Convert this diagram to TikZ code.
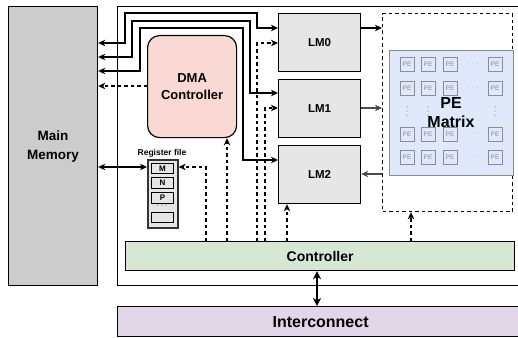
\documentclass[tikz,border=0pt]{standalone}
\usepackage{fontspec}
\setmainfont{Liberation Sans}
\newfontfamily\dejavu{DejaVu Sans}
\usetikzlibrary{arrows.meta,calc}
\definecolor{mmgray}{HTML}{CCCCCC}
\definecolor{dmapink}{HTML}{FAD9D5}
\definecolor{lmgray}{HTML}{E6E6E6}
\definecolor{ctrlgreen}{HTML}{D5E8D4}
\definecolor{icpurple}{HTML}{E1D5E7}
\definecolor{peblue}{HTML}{DFE9FB}
\definecolor{pegray}{HTML}{8C8C8C}
\begin{document}
\begin{tikzpicture}[x=1pt,y=-1pt,
  box/.style={draw=black,line width=1.2pt,inner sep=0pt,anchor=north west,align=center},
  conn/.style={line width=1.2pt},
  dsh/.style={line width=1.2pt,dash pattern=on 3.5pt off 3pt},
  >={Stealth[length=7pt,width=6.5pt,inset=2pt]},
  f13/.style={font=\bfseries\fontsize{13}{17}\selectfont},
  fmm/.style={font=\bfseries\fontsize{13.5}{19}\selectfont},
  f11/.style={font=\bfseries\fontsize{11.5}{13}\selectfont},
  f14/.style={font=\bfseries\fontsize{14}{16}\selectfont},
  f16/.style={font=\bfseries\fontsize{16}{19}\selectfont},
  pecell/.style={draw=pegray,line width=1pt,fill=peblue,inner sep=0pt,minimum width=14pt,minimum height=14pt,text=pegray,font=\fontsize{6.5}{7}\selectfont},
  slot/.style={draw=black,line width=1pt,fill=lmgray,inner sep=0pt,anchor=north west,minimum width=22pt,font=\bfseries\fontsize{8}{9}\selectfont},
  hdots/.style={text=pegray!80,font=\fontsize{7}{8}\selectfont,inner sep=0pt},
  vdots/.style={text=pegray!60,font=\dejavu\fontsize{13}{14}\selectfont,inner sep=0pt}]
\useasboundingbox (0,0) rectangle (518,337);

% main boxes
\node[box,fill=mmgray,minimum width=89pt,minimum height=279pt,fmm] (mm) at (8,6) {Main\\Memory};
\node[box,minimum width=404pt,minimum height=279pt] (chip) at (117,6) {};
\node[box,fill=dmapink,rounded corners=12pt,minimum width=89pt,minimum height=102pt,f13] (dma) at (147,35) {DMA\\Controller};
\node[box,fill=lmgray,minimum width=82pt,minimum height=58pt,f11] (lm0) at (278,13) {LM0};
\node[box,fill=lmgray,minimum width=82pt,minimum height=58pt,f11] (lm1) at (278,79) {LM1};
\node[box,fill=lmgray,minimum width=82pt,minimum height=58pt,f11] (lm2) at (278,145) {LM2};
\node[box,fill=ctrlgreen,minimum width=389pt,minimum height=29pt,f14] (ctrl) at (125,241) {Controller};
\node[box,fill=icpurple,minimum width=406pt,minimum height=30pt,f16] (ic) at (117,306) {Interconnect};

% register file
\node[box,draw=black!80,line width=1.6pt,fill=lmgray,minimum width=30pt,minimum height=68pt] (reg) at (147,159) {};
\node[font=\bfseries\fontsize{8.5}{9}\selectfont,inner sep=0pt] (reglabel) at (162,153) {Register file};
\node[slot,minimum height=10pt] (regM) at (151,163) {M};
\node[slot,minimum height=11pt] (regN) at (151,177) {N};
\node[slot,minimum height=11pt] (regP) at (151,192) {P};
\node[inner sep=0pt,font=\fontsize{7}{8}\selectfont] (regdots) at (162,206) {· · ·};
\node[slot,minimum height=10pt] (regX) at (151,212) {};

% PE region
\node[box,dash pattern=on 3.5pt off 3pt,minimum width=130pt,minimum height=198pt] (pebox) at (382,13) {};
\node[box,draw=pegray,fill=peblue,minimum width=124pt,minimum height=125pt] (pem) at (389,50) {};
\foreach \c/\x in {1/407,2/428,3/450,5/495}{
  \foreach \r/\y in {1/64,2/88,3/134,4/157}{
    \node[pecell] (pe-\r-\c) at (\x,\y) {PE};
  }
}
\foreach \c/\x in {1/407,2/428,5/495}{
  \node[vdots] (vd-\c) at (\x,111) {⋮};
}
\foreach \r/\y in {1/64,2/88,3/134,4/157}{
  \node[hdots] (hd-\r) at (473,\y) {· · ·};
}
\node[f16,inner sep=0pt,align=center] (pelabel) at (451,112.5) {PE\\Matrix};

% memory <-> local memories
\draw[conn,<->] (mm.east |- 0,43) -| (125,13) -| (257,28) -- (lm0.west |- 0,28);
\draw[conn,<->] (mm.east |- 0,57) -| (132,21) -| (250,93) -- (lm1.west |- 0,93);
\draw[conn,<->] (mm.east |- 0,71) -| (140,28) -| (243,160) -- (lm2.west |- 0,160);
\draw[dsh,->] (dma.west |- 0,86) -- (mm.east |- 0,86);
\draw[conn,<->] (mm.east |- 0,167) -- (reg.west |- 0,167);

% controller dashed control lines
\draw[dsh,->] (ctrl.north -| 206,0) |- (reg.east |- 0,167);
\draw[dsh,->] (ctrl.north -| 227,0) -- (dma.south -| 227,0);
\draw[dsh,->] (ctrl.north -| 257,0) |- (lm0.west |- 0,43);
\draw[dsh,->] (ctrl.north -| 265,0) |- (lm1.west |- 0,108);
\draw[dsh,->] (ctrl.north -| 287,0) -- (lm2.south -| 287,0);
\draw[dsh,->] (ctrl.north -| 411,0) -- (pebox.south -| 411,0);

% LM <-> PE
\draw[conn,->] (lm0.east |- 0,28) -- (pebox.west |- 0,28);
\draw[conn,draw=black!70,->] (lm1.east |- 0,108) -- (pebox.west |- 0,108);
\draw[conn,draw=black!70,->] (pebox.west |- 0,174) -- (lm2.east |- 0,174);

% controller <-> interconnect
\draw[line width=2pt,{Stealth[length=8pt,width=8pt,inset=2.5pt]}-{Stealth[length=8pt,width=8pt,inset=2.5pt]}] (ctrl.south -| 317,0) -- (ic.north -| 317,0);
\end{tikzpicture}
\end{document}
